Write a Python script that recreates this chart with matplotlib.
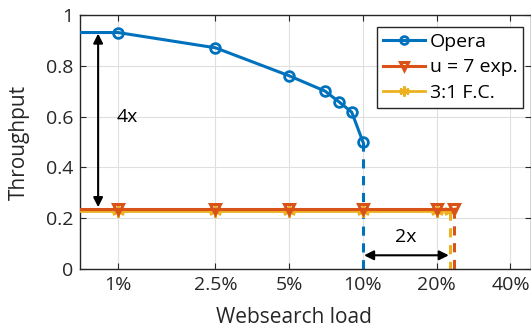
import numpy as np
import matplotlib.pyplot as plt
from matplotlib.ticker import FixedLocator, NullLocator

# data (load in %, throughput)
opera_load = [0.5, 1, 2.5, 5, 7, 8, 9, 10]
opera_tput = [0.93, 0.93, 0.87, 0.76, 0.70, 0.657, 0.617, 0.50]
opera_markers = [1, 2, 3, 4, 5, 6, 7]

exp_load = [0.5, 1, 2.5, 5, 10, 20, 23.5]
exp_tput = [0.237, 0.237, 0.237, 0.237, 0.237, 0.237, 0.237]

fc_load = [0.5, 1, 2.5, 5, 10, 20, 22.6]
fc_tput = [0.23, 0.23, 0.23, 0.23, 0.23, 0.23, 0.23]

xticks = [1, 2.5, 5, 10, 20, 40]
xtick_labels = ["1%", "2.5%", "5%", "10%", "20%", "40%"]
yticks = [0, 0.2, 0.4, 0.6, 0.8, 1]
ytick_labels = ["0", "0.2", "0.4", "0.6", "0.8", "1"]

blue = "#0072BD"
orange = "#D95319"
yellow = "#EDB120"
dark = "#262626"

plt.rcParams["font.family"] = ["Open Sans", "DejaVu Sans"]

fig = plt.figure(figsize=(5.31, 3.33), dpi=100)
ax = fig.add_axes([80 / 531, 1 - 269.3 / 333, 451 / 531, 254.6 / 333])

ax.plot(fc_load, fc_tput, color=yellow, lw=2, marker=(6, 2, 0), ms=9,
        mew=1.8, markevery=list(range(1, len(fc_load))), label="3:1 F.C.",
        zorder=3)
ax.plot(exp_load, exp_tput, color=orange, lw=2.2, marker="v", ms=7,
        mfc="none", mew=2.2, markevery=list(range(1, len(exp_load))),
        label="u = 7 exp.", zorder=4)
ax.plot(opera_load, opera_tput, color=blue, lw=2.2, marker="o", ms=7,
        mfc="none", mew=2, markevery=opera_markers, label="Opera",
        zorder=5)

# dashed drop lines at the saturation points
ax.plot([opera_load[-1]] * 2, [opera_tput[-1], 0], color=blue, lw=2.2,
        ls=(0, (3, 2.5)), zorder=2)
ax.plot([exp_load[-1]] * 2, [exp_tput[-1], 0], color=orange, lw=2.2,
        ls=(0, (3, 2.5)), zorder=2)
ax.plot([fc_load[-1]] * 2, [fc_tput[-1], 0], color=yellow, lw=2.2,
        ls=(0, (3, 2.5)), zorder=2)

# annotations
ax.annotate("", xy=(0.83, 0.926), xytext=(0.83, 0.244),
            arrowprops=dict(arrowstyle="<|-|>", color="black", lw=1.5,
                            mutation_scale=14, shrinkA=0, shrinkB=0))
ax.text(0.985, 0.60, "4x", fontsize=14, ha="left", va="center")
ax.annotate("", xy=(10.1, 0.055), xytext=(22.4, 0.055),
            arrowprops=dict(arrowstyle="<|-|>", color="black", lw=1.5,
                            mutation_scale=14, shrinkA=0, shrinkB=0))
ax.text(14.9, 0.125, "2x", fontsize=14, ha="center", va="center")

ax.set_xscale("log")
ax.set_xlim(0.7, 48.5)
ax.set_ylim(0, 1)
ax.xaxis.set_major_locator(FixedLocator(xticks))
ax.xaxis.set_minor_locator(NullLocator())
ax.set_xticklabels(xtick_labels)
ax.set_yticks(yticks)
ax.set_yticklabels(ytick_labels)

ax.grid(True, color="#DFDFDF", lw=0.8)
ax.set_axisbelow(True)
ax.tick_params(which="both", direction="in", top=True, right=True,
               length=4, width=0.8, colors=dark, labelsize=14, pad=5)
for s in ax.spines.values():
    s.set_color(dark)
    s.set_linewidth(1.0)

ax.set_xlabel("Websearch load", fontsize=15, color=dark)
ax.set_ylabel("Throughput", fontsize=15, color=dark)
ax.xaxis.set_label_coords((294 - 80) / 451, -0.15)
ax.yaxis.set_label_coords(-0.112, 0.5)

handles, labels = ax.get_legend_handles_labels()
leg = ax.legend(handles[::-1], labels[::-1], loc="upper right",
                bbox_to_anchor=((523 - 80) / 451, (269.3 - 26.7) / 254.6),
                fontsize=14, frameon=True, fancybox=False, framealpha=1,
                edgecolor=dark, handlelength=2.15, borderaxespad=0,
                labelspacing=0.4, handletextpad=0.25, borderpad=0.3,
                markerscale=0.8)
leg.get_frame().set_linewidth(1.0)

fig.savefig("out.png", dpi=100)
